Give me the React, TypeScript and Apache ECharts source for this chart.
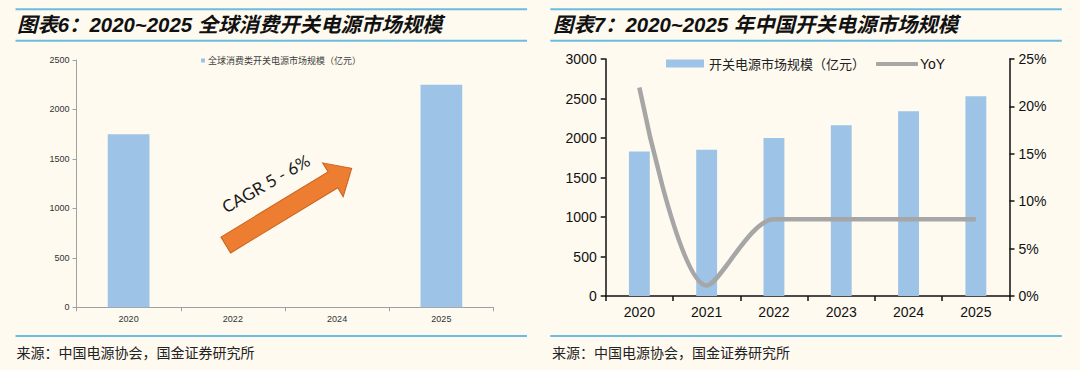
import React, { useEffect, useRef } from "react";
import * as echarts from "echarts";

// ---- data ----
const leftCategories = ["2020", "2022", "2024", "2025"];
const leftValues: (number | null)[] = [1750, null, null, 2250];
const leftYMax = 2500;
const leftYInterval = 500;

const rightCategories = ["2020", "2021", "2022", "2023", "2024", "2025"];
const rightMarket = [1830, 1850, 2000, 2160, 2340, 2530];
const rightYoY = [22.0, 1.1, 8.1, 8.1, 8.1, 8.1];
const rightYMax = 3000;
const rightYInterval = 500;
const rightPctMax = 25;
const rightPctInterval = 5;

const leftTitle = "图表6：2020~2025 全球消费开关电源市场规模";
const rightTitle = "图表7：2020~2025 年中国开关电源市场规模";
const sourceText = "来源：中国电源协会，国金证券研究所";
const leftLegendName = "全球消费类开关电源市场规模（亿元）";
const rightBarName = "开关电源市场规模（亿元）";
const rightLineName = "YoY";
const cagrLabel = "CAGR 5 - 6%";

// ---- styles ----
const BG = "#fefaf0";
const RULE = "#6cbbe0";
const BAR = "#9dc3e6";
const LINE = "#a6a6a6";
const ORANGE = "#ed7d31";
const LATIN = "'Liberation Sans', Arial, 'Noto Sans CJK SC', sans-serif";
const CJK = "'Noto Sans CJK SC', 'Liberation Sans', sans-serif";

function buildArrow() {
  const L = 147.4;
  const hw = 9.3;
  const hh = 19.8;
  const hl = 22;
  return {
    type: "group",
    x: 225.8,
    y: 245,
    rotation: (31.35 * Math.PI) / 180,
    children: [
      {
        type: "polygon",
        shape: {
          points: [
            [0, -hw],
            [L - hl, -hw],
            [L - hl, -hh],
            [L, 0],
            [L - hl, hh],
            [L - hl, hw],
            [0, hw],
          ],
        },
        style: { fill: ORANGE, stroke: "#c9621c", lineWidth: 1 },
      },
    ],
  };
}

const plain = (v: number) => String(v);

export default function App() {
  const ref = useRef<HTMLDivElement>(null);
  useEffect(() => {
    document.body.style.margin = "0";
    document.body.style.background = BG;
    const chart = echarts.init(ref.current!, null, { renderer: "svg" });
    const ruleLine = (x1: number, x2: number, y: number) => ({
      type: "line",
      shape: { x1, y1: y, x2, y2: y },
      style: { stroke: RULE, lineWidth: 2 },
    });
    const titleStyle = (text: string) => ({
      text,
      fontSize: 20.4,
      fontWeight: "bold",
      fontStyle: "italic",
      fontFamily: LATIN,
      fill: "#111",
      verticalAlign: "middle",
    });
    const option: any = {
      animation: false,
      backgroundColor: BG,
      legend: [
        {
          data: [leftLegendName],
          left: 201,
          top: 56,
          padding: 0,
          itemWidth: 4,
          itemHeight: 4,
          itemGap: 10,
          textStyle: { fontSize: 9, color: "#404040", fontFamily: CJK, padding: [0, 0, 0, -2] },
          icon: "rect",
        },
        {
          data: [rightBarName],
          left: 666,
          top: 57,
          padding: 0,
          itemWidth: 38,
          itemHeight: 8,
          icon: "rect",
          textStyle: { fontSize: 13, color: "#222", fontFamily: CJK },
        },
        {
          data: [rightLineName],
          left: 876,
          top: 57,
          padding: 0,
          itemWidth: 42,
          itemHeight: 4,
          icon: "roundRect",
          itemStyle: { color: LINE },
          textStyle: { fontSize: 14, color: "#111", fontFamily: LATIN, padding: [0, 0, 0, -3] },
        },
      ],
      grid: [
        { left: 76.5, right: 586.5, top: 60, bottom: 62.7, containLabel: false },
        { left: 605.7, right: 70.5, top: 59, bottom: 74, containLabel: false },
      ],
      xAxis: [
        {
          type: "category",
          gridIndex: 0,
          data: leftCategories,
          axisLine: { lineStyle: { color: "#a0a0a0", width: 1 } },
          axisTick: { show: true, length: 4, lineStyle: { color: "#a0a0a0" } },
          axisLabel: { fontSize: 9, color: "#333", fontFamily: LATIN, margin: 7 },
        },
        {
          type: "category",
          gridIndex: 1,
          data: rightCategories,
          axisLine: { lineStyle: { color: "#111", width: 1.5 } },
          axisTick: { show: true, length: 5, lineStyle: { color: "#111", width: 1.5 } },
          axisLabel: { fontSize: 14, color: "#111", fontFamily: LATIN, margin: 9 },
        },
      ],
      yAxis: [
        {
          type: "value",
          gridIndex: 0,
          min: 0,
          max: leftYMax,
          interval: leftYInterval,
          splitLine: { show: false },
          axisLine: { show: true, lineStyle: { color: "#a0a0a0", width: 1 } },
          axisTick: { show: true, length: 4, lineStyle: { color: "#a0a0a0" } },
          axisLabel: { fontSize: 9, color: "#333", fontFamily: LATIN, margin: 7, formatter: plain },
        },
        {
          type: "value",
          gridIndex: 1,
          min: 0,
          max: rightYMax,
          interval: rightYInterval,
          splitLine: { show: false },
          axisLine: { show: true, lineStyle: { color: "#111", width: 1.5 } },
          axisTick: { show: true, length: 5, lineStyle: { color: "#111", width: 1.5 } },
          axisLabel: { fontSize: 14, color: "#111", fontFamily: LATIN, margin: 9, formatter: plain },
        },
        {
          type: "value",
          gridIndex: 1,
          position: "right",
          min: 0,
          max: rightPctMax,
          interval: rightPctInterval,
          splitLine: { show: false },
          axisLine: { show: true, lineStyle: { color: "#111", width: 1.5 } },
          axisTick: { show: true, length: 5, lineStyle: { color: "#111", width: 1.5 } },
          axisLabel: { fontSize: 14, color: "#111", fontFamily: LATIN, margin: 9, formatter: "{value}%" },
        },
      ],
      series: [
        {
          name: leftLegendName,
          type: "bar",
          xAxisIndex: 0,
          yAxisIndex: 0,
          data: leftValues,
          barWidth: "40%",
          itemStyle: { color: BAR },
        },
        {
          name: rightBarName,
          type: "bar",
          xAxisIndex: 1,
          yAxisIndex: 1,
          data: rightMarket,
          barWidth: "31%",
          itemStyle: { color: BAR },
        },
        {
          name: rightLineName,
          type: "line",
          xAxisIndex: 1,
          yAxisIndex: 2,
          data: rightYoY,
          smooth: 0.3,
          symbol: "none",
          lineStyle: { color: LINE, width: 4.5 },
          itemStyle: { color: LINE },
        },
      ],
      graphic: [
        ruleLine(15.5, 527, 9.3),
        ruleLine(15.5, 527, 40.7),
        ruleLine(550.3, 1061.8, 9.3),
        ruleLine(550.3, 1061.8, 40.7),
        ruleLine(15.5, 527, 336),
        ruleLine(550.3, 1061.8, 336),
        { type: "text", x: 17, y: 25, style: titleStyle(leftTitle) },
        { type: "text", x: 553, y: 25, style: titleStyle(rightTitle) },
        {
          type: "text",
          x: 16.5,
          y: 351.5,
          style: { text: sourceText, fontSize: 14, fontFamily: CJK, fill: "#222", verticalAlign: "middle" },
        },
        {
          type: "text",
          x: 552,
          y: 351.5,
          style: { text: sourceText, fontSize: 14, fontFamily: CJK, fill: "#222", verticalAlign: "middle" },
        },
        buildArrow(),
        {
          type: "text",
          x: 265.7,
          y: 183.5,
          rotation: (30 * Math.PI) / 180,
          style: {
            text: cagrLabel,
            fontSize: 17,
            fontFamily: "Lato, 'Open Sans', sans-serif",
            fill: "#1a1a1a",
            align: "center",
            verticalAlign: "middle",
          },
        },
      ],
    };
    chart.setOption(option);
    return () => chart.dispose();
  }, []);
  return <div ref={ref} style={{ width: 1080, height: 370, background: BG }} />;
}
